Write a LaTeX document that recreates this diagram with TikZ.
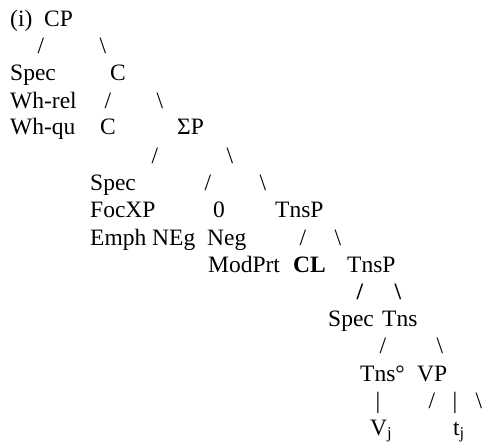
\documentclass[tikz,border=0pt]{standalone}
\usepackage{fontspec}
\setmainfont{Liberation Serif}
\usetikzlibrary{positioning}
\tikzset{
  word/.style={anchor=base west,inner sep=0pt,font=\fontsize{23.5}{27}\selectfont},
  branch/.style={anchor=base,inner sep=0pt,font=\fontsize{23.5}{27}\selectfont},
  boldbranch/.style={branch,font=\fontsize{23.5}{27}\selectfont\bfseries}
}
\begin{document}
\begin{tikzpicture}[x=1pt,y=-1pt]
  \useasboundingbox (0,0) rectangle (485,444);
  % CP layer
  \node[word] (ex) at (10,27) {(i)};
  \node[word] (cp) at (44,27) {CP};
  \node[branch] (cpL) at (41,54) {/};
  \node[branch] (cpR) at (103,54) {\textbackslash};
  \node[word] (spec1) at (10,81) {Spec};
  \node[word] (cbar) at (110,81) {C};
  \node[word] (whrel) at (10,108) {Wh-rel};
  \node[branch] (cbarL) at (108,108) {/};
  \node[branch] (cbarR) at (160,108) {\textbackslash};
  \node[word] (whqu) at (10,135) {Wh-qu};
  \node[word] (c0) at (100,135) {C};
  \node[word] (sigp) at (177,135) {ΣP};
  % Sigma layer
  \node[branch] (sigL) at (155,163) {/};
  \node[branch] (sigR) at (230,163) {\textbackslash};
  \node[word] (spec2) at (90,190) {Spec};
  \node[branch] (sbarL) at (208,190) {/};
  \node[branch] (sbarR) at (263,190) {\textbackslash};
  \node[word] (focxp) at (90,217) {FocXP};
  \node[word] (zero) at (213,217) {0};
  \node[word] (tnsp1) at (275,217) {TnsP};
  \node[word] (emph) at (90,245) {Emph NEg};
  \node[word] (neg) at (207,245) {Neg};
  \node[branch] (tnsp1L) at (303,245) {/};
  \node[branch] (tnsp1R) at (338,245) {\textbackslash};
  \node[word] (modprt) at (208,272) {ModPrt};
  \node[word,font=\fontsize{23.5}{27}\selectfont\bfseries] (cl) at (293,272) {CL};
  \node[word] (tnsp2) at (347,272) {TnsP};
  % Tns layer
  \node[boldbranch] (tnsp2L) at (360,299) {/};
  \node[boldbranch] (tnsp2R) at (398,299) {\textbackslash};
  \node[word] (spec3) at (328,326) {Spec};
  \node[word] (tns) at (382,326) {Tns};
  \node[branch] (tnsL) at (383,353) {/};
  \node[branch] (tnsR) at (440,353) {\textbackslash};
  \node[word] (tnshead) at (360,381) {Tns°};
  \node[word] (vp) at (417,381) {VP};
  \node[branch] (headbar) at (378,408) {|};
  \node[branch] (vpL) at (432,408) {/};
  \node[branch] (vpM) at (455,408) {|};
  \node[branch] (vpR) at (479,408) {\textbackslash};
  \node[word] (verb) at (370,435) {V\textsubscript{j}};
  \node[word] (trace) at (453,435) {t\textsubscript{j}};
\end{tikzpicture}
\end{document}
